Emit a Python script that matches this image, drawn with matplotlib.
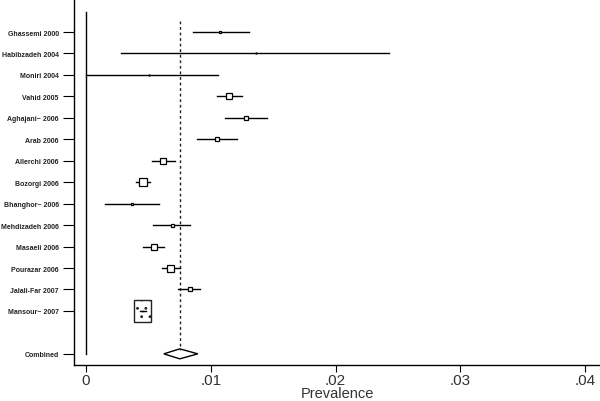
import matplotlib.pyplot as plt
from matplotlib.patches import Rectangle, Polygon

# study labels, estimates and confidence limits
estudios = ["Ghassemi 2000", "Habibzadeh 2004", "Moniri 2004", "Vahid 2005",
            "Aghajani~ 2006", "Arab 2006", "Allerchi 2006", "Bozorgi 2006",
            "Bhanghor~ 2006", "Mehdizadeh 2006", "Masaeli 2006", "Pourazar 2006",
            "Jalali-Far 2007", "Mansour~ 2007"]
prev = [0.01072, 0.0136, 0.00504, 0.01144, 0.0128, 0.01053, 0.00621, 0.00456,
        0.00368, 0.00688, 0.00544, 0.00672, 0.00832, 0.00456]
bajo = [0.00856, 0.0028, 0.0, 0.01048, 0.01117, 0.0089, 0.00528, 0.00397,
        0.00152, 0.00539, 0.00459, 0.00611, 0.00741, 0.00452]
alto = [0.01304, 0.0243, 0.01056, 0.01248, 0.01453, 0.01213, 0.00712, 0.00512,
        0.00584, 0.00834, 0.00626, 0.00752, 0.00912, 0.0046]
pesos = [2, 1, 1, 6, 4, 4, 6, 8, 2.5, 3, 6, 7, 5, 17]  # box size (px)

comb_est = 0.00752
comb_lo = 0.00624
comb_hi = 0.00896

xticks = [0, 0.01, 0.02, 0.03, 0.04]
xticklabels = ["0", ".01", ".02", ".03", ".04"]

plt.rcParams["font.family"] = ["Liberation Sans", "DejaVu Sans"]
plt.rcParams["hatch.linewidth"] = 0.8

fig = plt.figure(figsize=(6, 4.02), dpi=100)
ax = fig.add_axes([74/600, 36/402, 526/600, 366/402])

n = len(estudios)
y_comb = 15
ax.set_xlim(-0.00096, 0.0412)
ax.set_ylim(15.52, -1.54)

# reference lines
ax.plot([0, 0], [-0.93, 15.0], color="black", lw=1)
ax.plot([comb_est, comb_est], [-0.5, 14.8], color="#222222", lw=1, ls=(0, (2, 2)))

px_x = 0.01 / 125   # data units per pixel
px_y = 1 / 21.46
for i in range(n):
    ax.plot([bajo[i], alto[i]], [i, i], color="black", lw=1)
    if pesos[i] > 10:
        w = pesos[i] * px_x
        h = 22 * px_y
        ax.add_patch(Rectangle((prev[i] - w / 2, i - h / 2), w, h, fill=False,
                               ec="#222222", lw=1, hatch=".."))
        ax.plot([prev[i] - 0.00025, prev[i] + 0.00025], [i, i], color="black", lw=1)
    else:
        ax.plot(prev[i], i, marker="s", ms=pesos[i] * 0.72, mfc="white",
                mec="black", mew=0.9)

# combined diamond
dh = 5 * px_y
ax.add_patch(Polygon([(comb_lo, y_comb), (comb_est, y_comb - dh),
                      (comb_hi, y_comb), (comb_est, y_comb + dh)],
                     closed=True, fill=False, ec="black", lw=1))

ax.set_yticks(list(range(n)) + [y_comb])
ax.set_yticklabels(estudios + ["Combined"], fontsize=5, fontweight="bold",
                   color="#222222")
ax.tick_params(axis="y", length=8, width=0.8, pad=3)
ax.set_xticks(xticks)
ax.set_xticklabels(xticklabels, fontsize=11, color="#333333")
ax.tick_params(axis="x", length=5, width=0.8, pad=1)
ax.set_xlabel("Prevalence", fontsize=10.5, labelpad=-1, color="#333333")

ax.spines["top"].set_visible(False)
ax.spines["right"].set_visible(False)
ax.spines["left"].set_linewidth(1)
ax.spines["bottom"].set_linewidth(1)

fig.savefig("out.png", dpi=100)
